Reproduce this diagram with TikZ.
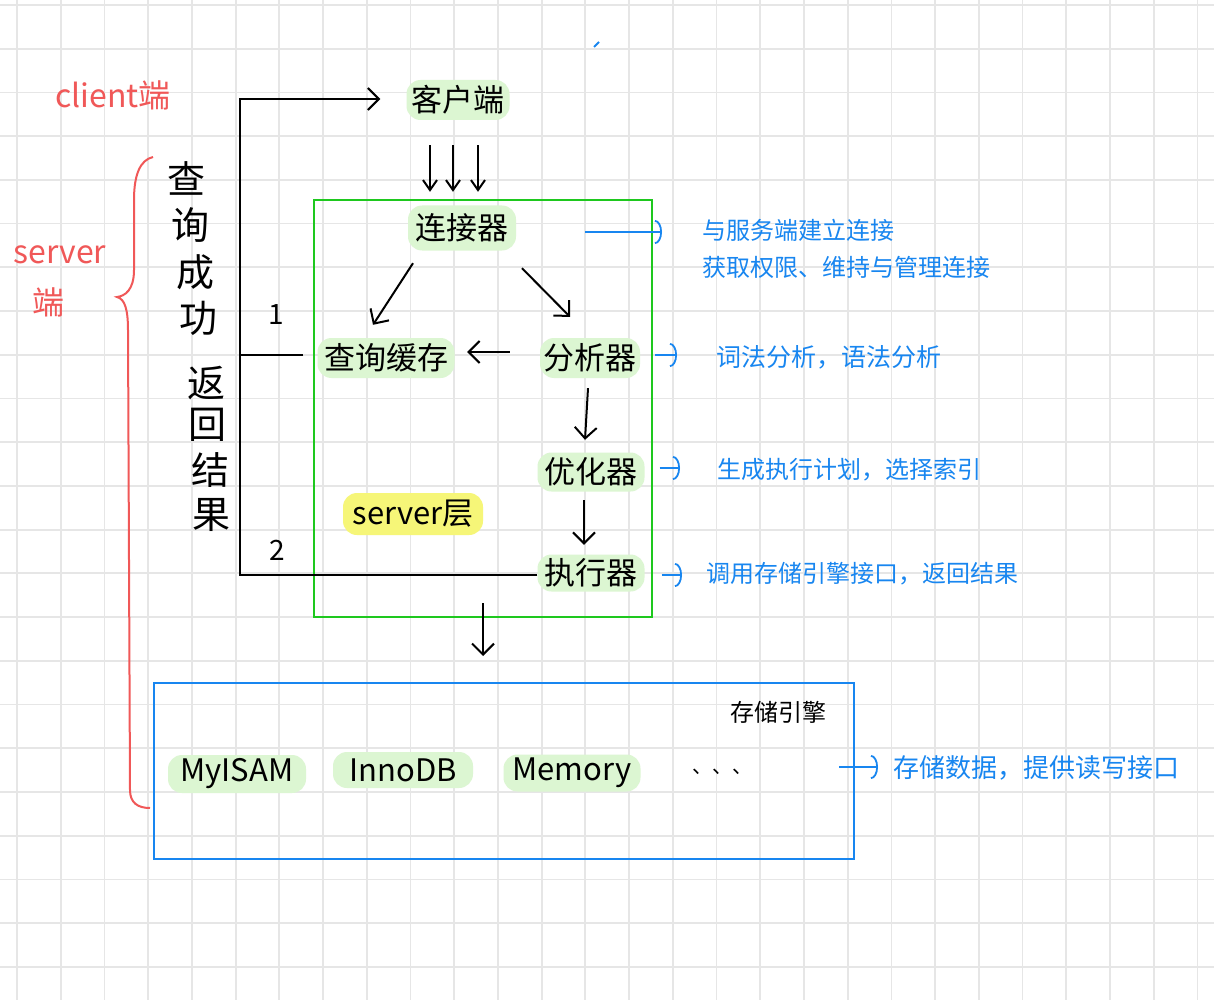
\documentclass[tikz,border=0pt]{standalone}
\usepackage{fontspec}
\setmainfont{Noto Sans CJK SC}
\usetikzlibrary{
  arrows.meta,  % Straight Barb / Arc Barb
  calc,         % 锚点偏移
  positioning
}
\definecolor{gridgray}{RGB}{230,230,230}
\definecolor{penred}{RGB}{240,88,88}
\definecolor{penblue}{RGB}{24,134,240}
\definecolor{boxgreen}{RGB}{30,200,30}
\definecolor{hlgreen}{RGB}{220,246,210}
\definecolor{hlyellow}{RGB}{246,246,120}
\tikzset{
  grid line/.style={
    gridgray,
    line width=1.8pt
  },
  flow/.style={
    -{Straight Barb[length=11pt,width=22pt]},
    line width=2pt
  },
  thin flow/.style={
    -{Straight Barb[length=10pt,width=14pt]},
    line width=2pt
  },
  note arrow/.style={
    -{Arc Barb[length=7pt,width=24pt]},
    penblue,
    line width=1.8pt
  },
  hl/.style={
    fill=hlgreen,
    rounded corners=14pt,
    inner sep=0pt,
    font=\fontsize{31}{36}\selectfont
  },
  redtext/.style={
    penred,
    font=\fontsize{32}{38}\selectfont
  },
  notetext/.style={
    penblue,
    anchor=west,
    inner sep=0pt,
    font=\fontsize{24}{28}\selectfont
  },
  vchar/.style={
    inner sep=0pt,
    font=\fontsize{38}{44}\selectfont
  }
}

\begin{document}
\begin{tikzpicture}[x=1pt, y=-1pt]
  \useasboundingbox (0,0) rectangle (1214,1000);
  \fill[white] (0,0) rectangle (1214,1000);

  % --- 方格纸背景 ---
  \foreach \i in {0,...,27}
    \draw[grid line] (17+\i*43.72,0) -- ++(0,1000);
  \foreach \j in {0,...,22}
    \draw[grid line] (0,5+\j*43.72) -- ++(1214,0);

  % 顶部的小笔迹
  \draw[penblue, line width=1.8pt] (594,47) -- (599,42);

  % --- 左侧红字与大括号 ---
  \node[redtext] (clientlbl) at (113,95) {client端};
  \node[redtext] (serverlbl) at (60,255) {server};
  \node[redtext] (serverlbl2) at (48,302) {端};
  \draw[penred, line width=2pt]
    (153,157) .. controls (140,160) and (134,175) .. (134,200)
    -- (134,270) .. controls (134,290) and (125,296) .. (117,297)
    .. controls (125,299) and (128,310) .. (128,330)
    -- (130,790) .. controls (130,803) and (138,808) .. (150,808);

  % 竖排: 查询成功 返回结果
  \foreach \ch/\x/\y [count=\k] in {查/186/178, 询/190/225, 成/195/272, 功/198/318,
                                    返/206/383, 回/207/425, 结/210/470, 果/211/515}
    \node[vchar] (vt-\k) at (\x,\y) {\ch};

  % --- server 层 ---
  \node[draw=boxgreen, line width=2pt, minimum width=338pt, minimum height=417pt]
    (srvbox) at (483,408.5) {};

  \node[hl, minimum width=103pt, minimum height=40pt] (client) at (458,100) {客户端};
  \node[hl, minimum width=108pt, minimum height=45pt] (conn) at (462,228) {连接器};
  \node[hl, minimum width=137pt, minimum height=40pt] (cache) at (386,358) {查询缓存};
  \node[hl, minimum width=100pt, minimum height=40pt] (parser) at (590,358) {分析器};
  \node[hl, minimum width=107pt, minimum height=39pt] (opt) at (591,472) {优化器};
  \node[hl, minimum width=107pt, minimum height=37pt] (exec) at (591,573) {执行器};
  \node[hl, fill=hlyellow, minimum width=140pt, minimum height=42pt] (layer) at (413,514) {server层};

  % 客户端 -> 连接器
  \foreach \dx in {-28,-5,20}
    \draw[thin flow] ($(client.south)+(\dx,25)$) -- ($(client.south |- conn.north)+(\dx,-13.5)$);

  \draw[flow] ($(conn.south)+(-49,12.5)$) -- ($(cache.north)+(-13,-13)$);
  \draw[flow] ($(conn.south)+(60,17.5)$) -- ($(parser.north)+(-20,-21)$);
  \draw[flow] ($(parser.west)+(-30,-6)$) -- ($(cache.east)+(12.5,-6)$);
  \draw[flow] ($(parser.south)+(-2,10)$) -- ($(opt.north)+(-6,-12.5)$);
  \draw[flow] ($(opt.south)+(-7,8.5)$) -- ($(exec.north)+(-7,-9.5)$);

  % --- 返回结果的线路 ---
  \coordinate (busx) at (240,0);
  \draw[flow] ($(exec.west)+(0,2)$) -- ($(exec.west -| busx)+(0,2)$)
    -- ($(client.west -| busx)+(0,-1)$) -- ($(client.west)+(-26,-1)$);
  \draw[line width=2pt] ($(cache.west)+(-14,-3)$) -- ($(cache.west -| busx)+(0,-3)$);
  \node[font=\fontsize{28}{32}\selectfont] (one) at (276,315) {1};
  \node[font=\fontsize{28}{32}\selectfont] (two) at (277,550) {2};

  % --- 存储引擎 ---
  \node[draw=penblue, line width=2pt, minimum width=700pt, minimum height=176pt]
    (engbox) at (504,771) {};
  \node[font=\fontsize{24}{28}\selectfont] (englbl) at (778,712) {存储引擎};
  \node[hl, minimum width=138pt, minimum height=38pt] (myisam) at (237,774) {MyISAM};
  \node[hl, minimum width=140pt, minimum height=36pt] (innodb) at (403,770) {InnoDB};
  \node[hl, minimum width=137pt, minimum height=37pt] (memory) at (572,773) {Memory};
  \node[font=\fontsize{20}{24}\selectfont] (more) at (722,772) {、、、};

  \draw[flow] ($(srvbox.south)+(0,-15)$) -- ($(srvbox.south |- engbox.north)+(0,-26)$);

  % --- 右侧蓝色说明 ---
  \node[notetext] (note1) at (702,230) {与服务端建立连接};
  \node[notetext] (note1b) at (702,267) {获取权限、维持与管理连接};
  \node[notetext, font=\fontsize{25}{28}\selectfont] (note2) at (716,357) {词法分析，语法分析};
  \node[notetext] (note3) at (717,470) {生成执行计划，选择索引};
  \node[notetext] (note4) at (706,574) {调用存储引擎接口，返回结果};
  \node[notetext, font=\fontsize{26}{30}\selectfont] (note5) at (893,768) {存储数据，提供读写接口};

  \draw[note arrow] ($(conn.east)+(69,4)$) -- ($(note1.west)+(-40,2)$);
  \draw[note arrow] ($(parser.east)+(15,-3)$) -- ($(note2.west)+(-39,-2)$);
  \draw[note arrow] ($(opt.east)+(15,-4)$) -- ($(note3.west)+(-37,-2)$);
  \draw[note arrow] ($(exec.east)+(17,2)$) -- ($(note4.west)+(-24,1)$);
  \draw[note arrow] ($(engbox.east)+(-16,-4)$) -- ($(note5.west)+(-15,-1)$);

\end{tikzpicture}
\end{document}
